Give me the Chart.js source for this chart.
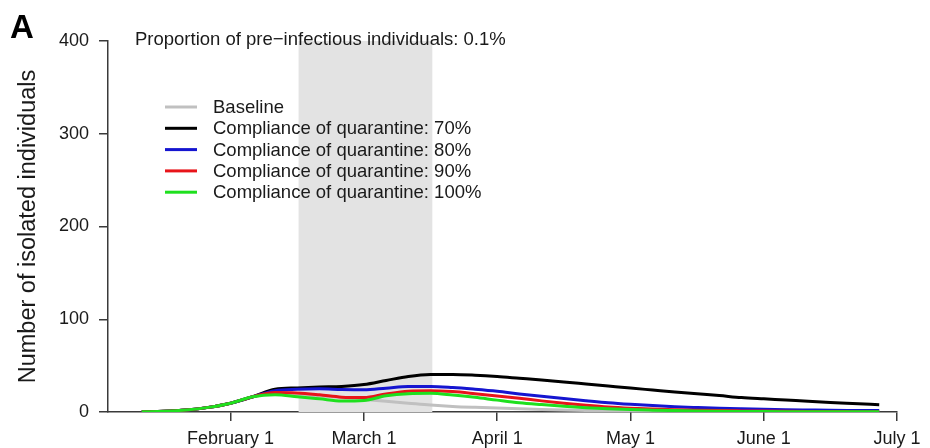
<!DOCTYPE html>
<html>
<head>
<meta charset="utf-8">
<script src="https://cdn.jsdelivr.net/npm/chart.js@4/dist/chart.umd.min.js"></script>
<style>
  html, body { margin: 0; padding: 0; background: #ffffff; }
  #wrap { width: 930px; height: 448px; position: relative; }
</style>
</head>
<body>
<div id="wrap"><canvas id="chart" width="930" height="448"></canvas></div>
<script>
// Day index on the horizontal axis (month starts are every 30 days: Feb 1 = 30 ... Jul 1 = 180)
const days = [10, 15, 20, 25, 30, 35, 40, 45, 50, 55, 60, 65, 70, 75, 80, 85, 90, 95, 100,
              105, 110, 115, 120, 125, 130, 135, 140, 145, 150, 155, 160, 165, 170, 176];

// Number of isolated individuals per scenario
const baseline = [0.2, 0.8, 2.2, 5, 9.5, 16.5, 19.8, 19, 17.5, 15.5, 13.5, 11.5, 9.5, 7.5, 6, 5,
                  4.2, 3.5, 2.8, 2.2, 1.7, 1.3, 1, 0.8, 0.6, 0.5, 0.4, 0.3, 0.25, 0.2, 0.15, 0.1, 0.1, 0.1];
const compliance70 = [0.2, 0.8, 2.2, 5, 9.5, 16.5, 24.5, 26, 27, 27.6, 29.6, 34, 38.3, 40.4, 40.5, 39.7,
                      38.3, 36.4, 34.5, 32.4, 30.2, 28, 25.8, 23.7, 21.6, 19.6, 17.7, 15.6, 14.2, 12.9, 11.5, 10.3, 9.2, 7.9];
const compliance80 = [0.2, 0.8, 2.2, 5, 9.5, 16.5, 23, 24.5, 25, 24.3, 24, 25.7, 27.5, 27.6, 26.4, 24.5,
                      22.3, 19.5, 17, 14.5, 12.2, 10, 8.3, 6.9, 5.7, 4.8, 4, 3.4, 2.9, 2.5, 2.2, 1.9, 1.7, 1.5];
const compliance90 = [0.2, 0.8, 2.2, 5, 9.5, 16.5, 21, 20.5, 18.5, 16, 15.5, 19.5, 22.5, 23, 22, 19.8,
                      17.3, 14.8, 12, 9.5, 7.3, 5.4, 4.1, 3.2, 2.5, 1.9, 1.5, 1.2, 0.95, 0.75, 0.6, 0.5, 0.4, 0.3];
const compliance100 = [0.2, 0.8, 2.2, 5, 9.5, 16.5, 18.5, 16.5, 14.2, 11.8, 12.5, 17.5, 19.8, 20.2, 18.3, 15.8,
                       12.8, 10, 8, 6.2, 4.7, 3.5, 2.6, 2, 1.5, 1.1, 0.85, 0.65, 0.5, 0.4, 0.3, 0.25, 0.2, 0.15];

const seriesLabels = ['Baseline', 'Compliance of quarantine: 70%', 'Compliance of quarantine: 80%',
                      'Compliance of quarantine: 90%', 'Compliance of quarantine: 100%'];

// Axis ticks
const tickDays = [30, 60, 90, 120, 150, 180];
const tickLabels = ['February 1', 'March 1', 'April 1', 'May 1', 'June 1', 'July 1'];
const yTicks = [0, 100, 200, 300, 400];

// Quarantine period (shaded band), in day index
const quarantineWindow = [45.3, 75.4];

const panelLetter = 'A';
const panelTitle = 'Proportion of pre\u2212infectious individuals: 0.1%';
const yTitle = 'Number of isolated individuals';

const FONT = "'Liberation Sans', Arial, Helvetica, sans-serif";
const AXIS_COLOR = '#3a3a3a';
const TEXT_COLOR = '#1a1a1a';
const colors = ['#c0c0c0', '#000000', '#1515d0', '#e8141a', '#1ee01e'];
const seriesData = [baseline, compliance70, compliance80, compliance90, compliance100];

const datasets = seriesData.map((vals, i) => ({
  label: seriesLabels[i],
  data: days.map((d, k) => ({ x: d, y: vals[k] })),
  borderColor: colors[i],
  backgroundColor: colors[i],
  borderWidth: 3,
  pointRadius: 0,
  fill: false,
  cubicInterpolationMode: 'monotone',
  order: seriesData.length - i   // later scenarios are painted on top
}));

// Grey band for the quarantine period
const bandPlugin = {
  id: 'band',
  beforeDatasetsDraw(chart) {
    const { ctx, chartArea, scales } = chart;
    const x0 = scales.x.getPixelForValue(quarantineWindow[0]);
    const x1 = scales.x.getPixelForValue(quarantineWindow[1]);
    ctx.save();
    ctx.fillStyle = '#e3e3e3';
    ctx.fillRect(x0, chartArea.top, x1 - x0, chartArea.bottom - chartArea.top);
    ctx.restore();
  }
};

// Panel letter, panel heading and the line legend
const annotationPlugin = {
  id: 'annotations',
  afterDraw(chart) {
    const { ctx } = chart;
    ctx.save();
    ctx.fillStyle = '#000';
    ctx.textBaseline = 'alphabetic';
    ctx.textAlign = 'left';
    ctx.font = 'bold 33px ' + FONT;
    ctx.fillText(panelLetter, 10, 38);

    ctx.fillStyle = TEXT_COLOR;
    ctx.font = '18.5px ' + FONT;
    ctx.textBaseline = 'middle';
    ctx.fillText(panelTitle, 135, 40);

    const rowY0 = 107, rowStep = 21.3;
    chart.data.datasets.forEach((ds, i) => {
      const y = rowY0 + i * rowStep;
      ctx.strokeStyle = ds.borderColor;
      ctx.lineWidth = 3;
      ctx.beginPath();
      ctx.moveTo(165, y);
      ctx.lineTo(197, y);
      ctx.stroke();
      ctx.fillStyle = TEXT_COLOR;
      ctx.fillText(ds.label, 213, y + 1);
    });
    ctx.restore();
  }
};

new Chart(document.getElementById('chart'), {
  type: 'line',
  data: { datasets },
  options: {
    responsive: false,
    animation: false,
    devicePixelRatio: 1,
    layout: { padding: { top: 41, right: 33, bottom: 0, left: 0 } },
    plugins: { legend: { display: false }, tooltip: { enabled: false }, title: { display: false } },
    scales: {
      x: {
        type: 'linear',
        min: 2.4,
        max: 180,
        afterBuildTicks(scale) { scale.ticks = tickDays.map(v => ({ value: v })); },
        afterFit(scale) { scale.height = 36; },
        ticks: {
          autoSkip: false,
          maxRotation: 0,
          padding: 7,
          color: TEXT_COLOR,
          font: { family: FONT, size: 18 },
          callback(value) { const i = tickDays.indexOf(value); return i >= 0 ? tickLabels[i] : ''; }
        },
        grid: { drawOnChartArea: false, drawTicks: true, tickLength: 9, color: AXIS_COLOR, lineWidth: 1.5 },
        border: { display: true, color: AXIS_COLOR, width: 1.5 }
      },
      y: {
        type: 'linear',
        min: 0,
        max: 400,
        afterBuildTicks(scale) { scale.ticks = yTicks.map(v => ({ value: v })); },
        afterFit(scale) { scale.width = 108; },
        ticks: {
          padding: 10,
          color: TEXT_COLOR,
          font: { family: FONT, size: 18 }
        },
        title: {
          display: true,
          text: yTitle,
          color: TEXT_COLOR,
          font: { family: FONT, size: 23.5 },
          padding: { top: 14, bottom: 0 }
        },
        grid: { drawOnChartArea: false, drawTicks: true, tickLength: 9, color: AXIS_COLOR, lineWidth: 1.5 },
        border: { display: true, color: AXIS_COLOR, width: 1.5 }
      }
    }
  },
  plugins: [bandPlugin, annotationPlugin]
});
</script>
</body>
</html>
